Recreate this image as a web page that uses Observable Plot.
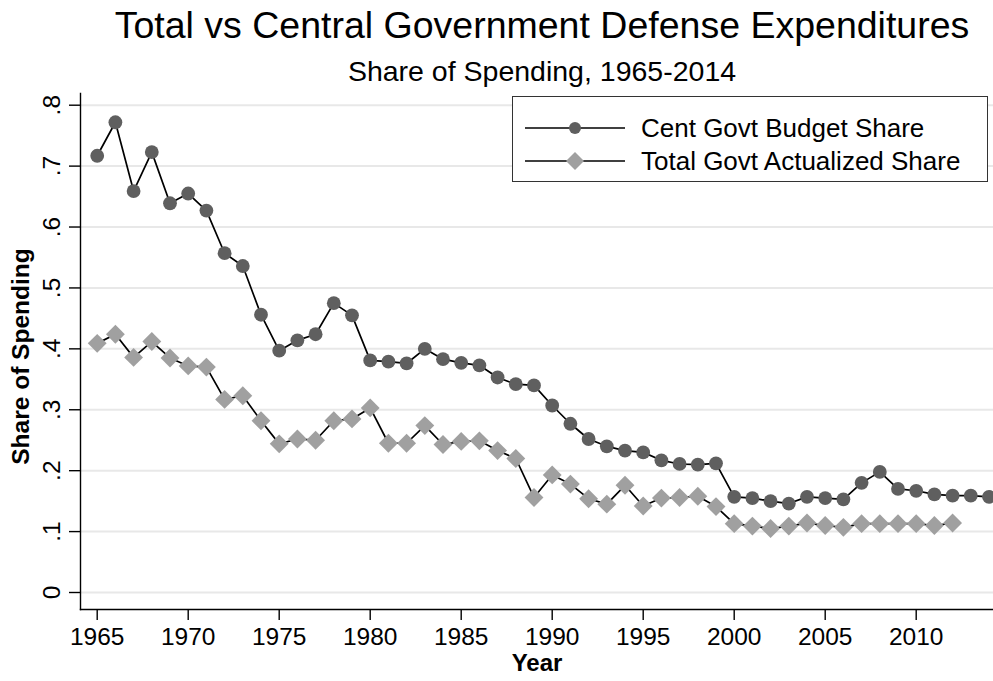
<!DOCTYPE html>
<html><head><meta charset="utf-8">
<script src="https://cdn.jsdelivr.net/npm/d3@7"></script>
<script src="https://cdn.jsdelivr.net/npm/@observablehq/plot@0.6"></script>
<style>
body{margin:0;background:#fff;font-family:"Liberation Sans",Arial,Helvetica,sans-serif;color:#000;}
#wrap{position:relative;width:993px;height:681px;overflow:hidden;background:#fff;}
#header{position:relative;width:993px;height:88px;}
#title{position:absolute;left:91px;width:902px;top:4px;line-height:42px;font-size:37.5px;text-align:center;white-space:nowrap;}
#subtitle{position:absolute;left:91px;width:902px;top:54.6px;line-height:32px;font-size:28.5px;text-align:center;white-space:nowrap;}
#legend{position:absolute;left:512px;top:96px;width:474px;height:84px;border:1.5px solid #333;background:#fff;}
.row{position:absolute;left:0;height:34px;width:100%;}
.row svg{position:absolute;left:11.5px;top:0;}
.row span{position:absolute;left:128px;top:0;line-height:34px;font-size:26px;white-space:nowrap;}
</style></head><body>
<div id="wrap">
  <div id="header">
    <div id="title">Total vs Central Government Defense Expenditures</div>
    <div id="subtitle">Share of Spending, 1965-2014</div>
  </div>
  <div id="chart"></div>
  <div id="legend"></div>
</div>
<script>
const years = [1965,1966,1967,1968,1969,1970,1971,1972,1973,1974,
  1975,1976,1977,1978,1979,1980,1981,1982,1983,1984,
  1985,1986,1987,1988,1989,1990,1991,1992,1993,1994,
  1995,1996,1997,1998,1999,2000,2001,2002,2003,2004,
  2005,2006,2007,2008,2009,2010,2011,2012,2013,2014];
const centShare = [.717,.772,.659,.723,.639,.655,.627,.557,.536,.456,
  .397,.414,.424,.475,.455,.381,.379,.376,.400,.383,
  .377,.373,.353,.342,.340,.307,.277,.252,.240,.233,
  .230,.217,.211,.210,.212,.157,.155,.150,.146,.157,
  .155,.153,.180,.198,.170,.167,.161,.159,.159,.157];
const totalShare = [.409,.424,.386,.412,.385,.372,.370,.317,.323,.282,
  .244,.252,.250,.282,.285,.303,.245,.245,.274,.243,
  .248,.249,.233,.220,.156,.193,.178,.154,.145,.176,
  .142,.155,.156,.158,.141,.113,.109,.105,.109,.114,
  .110,.107,.113,.113,.113,.113,.110,.114];
const seriesNames = ["Cent Govt Budget Share","Total Govt Actualized Share"];
const yTicks = [0,.1,.2,.3,.4,.5,.6,.7,.8];
const yTickLabels = ["0",".1",".2",".3",".4",".5",".6",".7",".8"];
const xTicks = [1965,1970,1975,1980,1985,1990,1995,2000,2005,2010];

const cent = centShare.map((v,i)=>({year:years[i], v}));
const total = totalShare.map((v,i)=>({year:years[i], v}));
const FONT = '"Liberation Sans", Arial, Helvetica, sans-serif';

const chart = Plot.plot({
  width: 993, height: 593,
  marginTop: 5, marginBottom: 72, marginLeft: 80, marginRight: 0,
  insetTop: 11.7, insetBottom: 17, insetLeft: 16.7, insetRight: 4.5,
  x: {domain: [1965, 2014]},
  y: {domain: [0, 0.8]},
  style: {fontFamily: FONT, fontSize: "25px", color: "#000", background: "#fff", overflow: "visible"},
  marks: [
    Plot.gridY(yTicks, {stroke: "#e8e8e8", strokeOpacity: 1, strokeWidth: 2}),
    Plot.frame({anchor: "left", stroke: "#000", strokeWidth: 1.4}),
    Plot.frame({anchor: "bottom", stroke: "#000", strokeWidth: 1.4}),
    Plot.axisY(yTicks, {tickSize: 11, tickFormat: () => "", strokeWidth: 1.4, label: null}),
    Plot.text(yTicks, {y: d => d, text: (d, i) => yTickLabels[i], frameAnchor: "left", textAnchor: "middle", lineAnchor: "middle", dx: -28, rotate: -90, fontSize: 24.5}),
    Plot.axisX(xTicks, {tickSize: 11, tickPadding: 7, tickFormat: d => String(d), strokeWidth: 1.4, fontSize: 24.5, label: null}),
    Plot.text(["Year"], {frameAnchor: "bottom", textAnchor: "middle", lineAnchor: "middle", dy: 54, fontWeight: "bold", fontSize: 24}),
    Plot.text(["Share of Spending"], {frameAnchor: "left", textAnchor: "middle", lineAnchor: "middle", dx: -59, dy: 5, rotate: -90, fontWeight: "bold", fontSize: 24.5}),
    Plot.line(cent, {x: "year", y: "v", stroke: "#000", strokeWidth: 1.7}),
    Plot.dot(cent, {x: "year", y: "v", r: 6.9, fill: "#5f5f5f", symbol: "circle"}),
    Plot.line(total, {x: "year", y: "v", stroke: "#000", strokeWidth: 1.7}),
    Plot.dot(total, {x: "year", y: "v", r: 8.5, fill: "#a0a0a0", symbol: "diamond2"})
  ]
});
document.getElementById("chart").appendChild(chart);

// legend
const legend = document.getElementById("legend");
const markers = [
  '<circle cx="50" cy="17" r="6" fill="#5f5f5f"/>',
  '<path d="M50,8 L59,17 L50,26 L41,17 Z" fill="#a0a0a0"/>'
];
seriesNames.forEach((name, i) => {
  const row = document.createElement("div");
  row.className = "row";
  row.style.top = (i === 0 ? 13.8 : 46.5) + "px";
  row.innerHTML = '<svg width="100" height="34"><line x1="0" x2="100" y1="17" y2="17" stroke="#000" stroke-width="1.7"/>' + markers[i] + '</svg><span>' + name + '</span>';
  legend.appendChild(row);
});
</script>
</body></html>
